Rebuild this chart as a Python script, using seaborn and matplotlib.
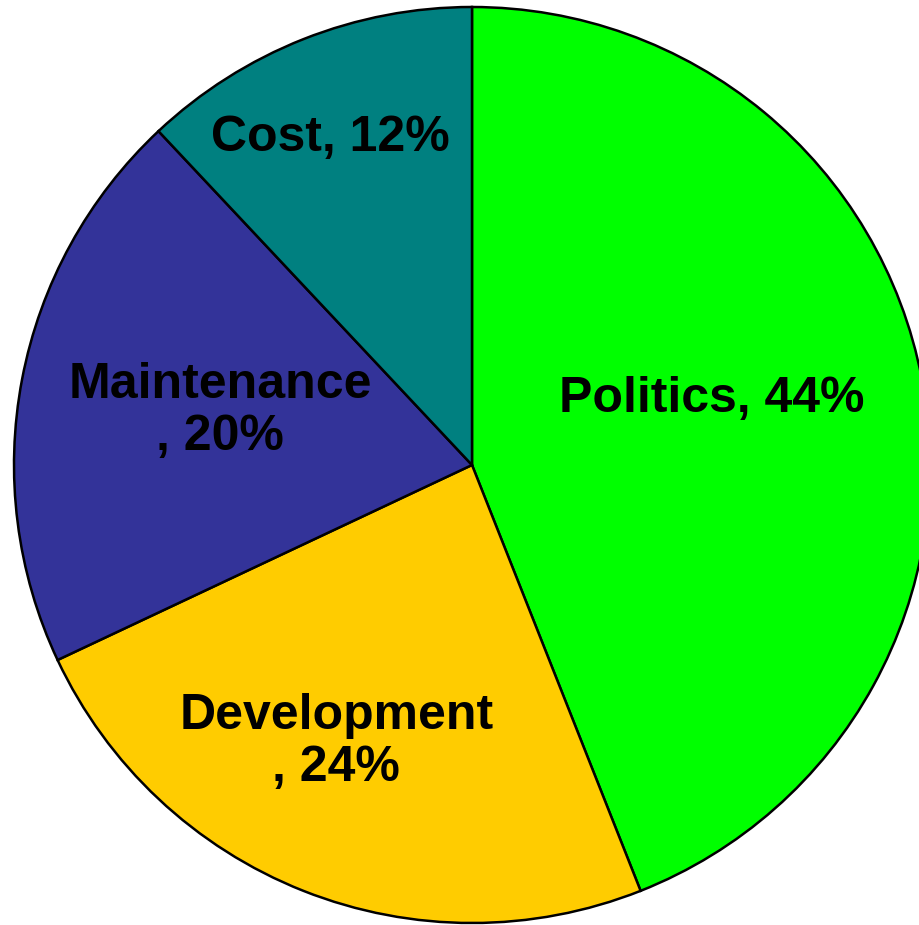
import matplotlib
matplotlib.use("Agg")
import matplotlib.pyplot as plt
import seaborn as sns

# shares of each category (percent), drawn clockwise from the top
categories = ["Politics", "Development", "Maintenance", "Cost"]
shares = [44, 24, 20, 12]
label_texts = ["Politics, 44%", "Development\n, 24%", "Maintenance\n, 20%", "Cost, 12%"]
slice_colors = ["#00FF00", "#FFCC00", "#333399", "#008080"]

# where each label sits (pie radius = 1)
label_pos = [(0.524, 0.145), (-0.296, -0.605), (-0.550, 0.118), (-0.310, 0.714)]

sns.set_theme(style="white")
plt.rcParams['font.family'] = ['Liberation Sans', 'DejaVu Sans']

fig = plt.figure(figsize=(9.2, 9.25), dpi=100)
ax = fig.add_axes([0, 0, 1, 1])

ax.pie(shares, colors=slice_colors, startangle=90, counterclock=False,
       radius=1.0, wedgeprops=dict(edgecolor="black", linewidth=1.8))

for txt, (x, y) in zip(label_texts, label_pos):
    ax.text(x, y, txt, ha="center", va="center", fontsize=36,
            fontweight="bold", color="black", linespacing=1.15)

# centre the pie at ~(472, 465) px with radius ~458 px
r_px = 458.0
ax.set_xlim(-472 / r_px, (920 - 472) / r_px)
ax.set_ylim(-(925 - 465) / r_px, 465 / r_px)
ax.set_aspect("auto")
ax.axis("off")

fig.savefig("out.png", dpi=100)
